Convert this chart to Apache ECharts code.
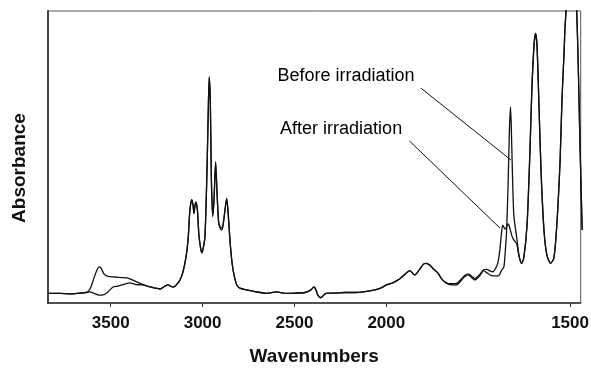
<!DOCTYPE html>
<html>
<head>
<meta charset="utf-8">
<script src="https://cdn.jsdelivr.net/npm/echarts@6/dist/echarts.min.js"></script>
<style>
  html, body { margin: 0; padding: 0; background: #fff; }
  #chart { width: 591px; height: 368px; }
</style>
</head>
<body>
<div id="chart"></div>
<script>
// FTIR absorbance spectra, wavenumbers in cm^-1
const beforeWn = [3841,3776,3721,3667,3634,3613,3591,3575,3562,3553,3536,3515,3477,3439,3411,3368,3330,3297,3259,3232,3205,3188,3172,3156,3139,3123,3107,3090,3079,3069,3059,3052,3047,3041,3036,3028,3020,3011,3005,2998,2987,2976,2969,2964,2958,2952,2945,2938,2929,2922,2913,2905,2896,2889,2878,2869,2862,2851,2840,2829,2814,2797,2760,2715,2651,2597,2552,2497,2443,2410,2394,2383,2372,2356,2345,2329,2280,2225,2171,2116,2062,2035,1999,1983,1964,1950,1936,1923,1909,1898,1891,1882,1871,1860,1849,1836,1822,1809,1795,1786,1777,1767,1759,1746,1735,1727,1718,1710,1705,1696,1691,1686,1680,1676,1673,1669,1665,1662,1660,1657,1653,1645,1639,1632,1626,1617,1609,1604,1598,1594,1590,1585,1579,1571,1563,1553,1544,1536,1527,1522,1516,1514,1510,1506,1495,1485,1482,1478,1473,1467];
const beforeAbs = [0.033,0.033,0.031,0.034,0.036,0.048,0.086,0.113,0.124,0.120,0.099,0.091,0.089,0.087,0.086,0.075,0.065,0.057,0.051,0.048,0.058,0.062,0.057,0.055,0.065,0.079,0.106,0.158,0.216,0.318,0.355,0.336,0.308,0.336,0.346,0.318,0.233,0.188,0.172,0.182,0.229,0.455,0.661,0.775,0.695,0.421,0.296,0.353,0.484,0.387,0.277,0.257,0.250,0.264,0.318,0.359,0.318,0.216,0.140,0.096,0.062,0.051,0.045,0.039,0.033,0.038,0.033,0.034,0.036,0.045,0.055,0.045,0.026,0.018,0.024,0.033,0.034,0.036,0.036,0.039,0.045,0.050,0.062,0.069,0.082,0.098,0.111,0.096,0.116,0.134,0.136,0.130,0.116,0.103,0.082,0.068,0.062,0.062,0.079,0.091,0.096,0.086,0.079,0.093,0.111,0.104,0.096,0.093,0.093,0.093,0.099,0.113,0.124,0.182,0.239,0.387,0.592,0.672,0.610,0.455,0.301,0.223,0.164,0.136,0.154,0.267,0.524,0.729,0.884,0.924,0.884,0.695,0.455,0.250,0.164,0.136,0.154,0.267,0.490,0.695,0.866,0.935,1.020,1.106,1.250,1.072,1.003,0.832,0.548,0.250];

const afterWn = [3841,3776,3721,3667,3634,3613,3591,3564,3536,3515,3487,3460,3422,3395,3362,3330,3297,3259,3232,3205,3188,3172,3156,3139,3123,3107,3090,3079,3069,3059,3052,3047,3041,3036,3028,3020,3011,3005,2998,2987,2976,2969,2964,2958,2952,2945,2938,2929,2922,2913,2905,2896,2889,2878,2869,2862,2851,2840,2829,2814,2797,2760,2715,2651,2597,2552,2497,2443,2410,2394,2383,2372,2356,2345,2329,2280,2225,2171,2116,2062,2035,1999,1983,1964,1950,1936,1923,1909,1898,1891,1882,1871,1860,1849,1836,1822,1809,1795,1786,1777,1767,1759,1746,1735,1727,1718,1710,1702,1696,1691,1687,1683,1677,1673,1668,1664,1658,1653,1645,1639,1632,1626,1617,1609,1604,1598,1594,1590,1585,1579,1571,1563,1553,1544,1536,1527,1522,1516,1514,1510,1506,1495,1485,1482,1478,1473,1467];
const afterAbs = [0.033,0.033,0.031,0.034,0.036,0.038,0.033,0.027,0.029,0.038,0.055,0.058,0.065,0.069,0.063,0.062,0.057,0.051,0.048,0.058,0.062,0.057,0.055,0.065,0.079,0.106,0.158,0.216,0.318,0.352,0.334,0.306,0.333,0.343,0.316,0.233,0.190,0.175,0.184,0.229,0.455,0.661,0.770,0.690,0.421,0.300,0.350,0.478,0.385,0.280,0.262,0.257,0.268,0.318,0.356,0.318,0.216,0.140,0.096,0.062,0.051,0.045,0.039,0.033,0.038,0.033,0.034,0.036,0.045,0.055,0.045,0.026,0.018,0.024,0.033,0.034,0.036,0.036,0.039,0.045,0.050,0.062,0.069,0.082,0.098,0.111,0.096,0.116,0.134,0.136,0.130,0.116,0.103,0.082,0.068,0.066,0.067,0.083,0.095,0.100,0.091,0.084,0.097,0.114,0.115,0.110,0.107,0.120,0.140,0.182,0.233,0.267,0.253,0.260,0.271,0.257,0.229,0.216,0.202,0.161,0.136,0.154,0.267,0.524,0.729,0.884,0.922,0.884,0.695,0.455,0.250,0.164,0.136,0.154,0.267,0.490,0.695,0.866,0.935,1.020,1.106,1.250,1.072,1.003,0.832,0.548,0.250];

// Axis range and labelled ticks (cm^-1)
const wnMax = 3843;
const wnMin = 1471;
const tickWn = [3500, 3000, 2500, 2000, 1500];

// Callouts: text anchor and leader line end points (wavenumber, absorbance)
const noteText = ['Before irradiation', 'After irradiation'];
const noteWn = [2219, 2246];
const noteAbs = [0.779, 0.596];
const leaderFromWn = [1906, 1937];
const leaderFromAbs = [0.736, 0.555];
const leaderToWn = [1661, 1691];
const leaderToAbs = [0.490, 0.257];

// The scale below 2000 cm^-1 is expanded twofold; the axis runs on a
// display coordinate that grows to the right.
const BREAK = 2000;
function toAxis(w) {
  return w >= BREAK ? (4000 - w) : (BREAK + 2 * (BREAK - w) + (4000 - 2 * BREAK));
}
function fromAxis(u) {
  const uBreak = 4000 - BREAK;
  return u <= uBreak ? (4000 - u) : (BREAK - (u - uBreak) / 2);
}

const pairs = (wn, a) => wn.map((w, i) => [toAxis(w), a[i]]);
const FONT = '"Liberation Sans", Arial, Helvetica, sans-serif';
const INK = '#111';

const chart = echarts.init(document.getElementById('chart'), null, { renderer: 'canvas' });

chart.setOption({
  animation: false,
  backgroundColor: '#fff',
  grid: {
    left: 47.7, right: 10.3, top: 11, bottom: 65,
    outerBoundsMode: 'none',
    containLabel: false,
    show: true, borderColor: '#555', borderWidth: 1
  },
  xAxis: {
    type: 'value',
    min: toAxis(wnMax),
    max: toAxis(wnMin),
    name: 'Wavenumbers',
    nameLocation: 'middle',
    nameGap: 44,
    nameTextStyle: { fontFamily: FONT, fontSize: 19, fontWeight: 'bold', color: INK },
    axisLine: { show: true, lineStyle: { color: '#333', width: 1.5 } },
    axisTick: {
      show: true, length: 4, inside: false,
      customValues: tickWn.map(toAxis),
      lineStyle: { color: '#333', width: 1 }
    },
    axisLabel: {
      show: true, margin: 12,
      customValues: tickWn.map(toAxis),
      formatter: (v) => String(Math.round(fromAxis(v))),
      fontFamily: FONT, fontSize: 17, fontWeight: 'bold', color: INK
    },
    splitLine: { show: false }
  },
  yAxis: {
    type: 'value',
    min: 0,
    max: 1,
    name: 'Absorbance',
    nameLocation: 'middle',
    nameRotate: 90,
    nameGap: 18,
    nameTextStyle: { fontFamily: FONT, fontSize: 19, fontWeight: 'bold', color: INK, padding: [0, 0, 0, -22] },
    axisLine: { show: true, lineStyle: { color: '#444', width: 2 } },
    axisTick: { show: false },
    axisLabel: { show: false },
    splitLine: { show: false }
  },
  series: [
    {
      name: 'Before irradiation',
      type: 'line',
      data: pairs(beforeWn, beforeAbs),
      showSymbol: false,
      smooth: 0.25,
      clip: true,
      lineStyle: { color: INK, width: 1.3 },
      markLine: {
        silent: true,
        symbol: ['none', 'none'],
        label: { show: false },
        lineStyle: { color: INK, width: 1, type: 'solid', opacity: 1 },
        data: leaderFromWn.map((w, i) => [
          { coord: [toAxis(w), leaderFromAbs[i]] },
          { coord: [toAxis(leaderToWn[i]), leaderToAbs[i]] }
        ])
      }
    },
    {
      name: 'After irradiation',
      type: 'line',
      data: pairs(afterWn, afterAbs),
      showSymbol: false,
      smooth: 0.25,
      clip: true,
      lineStyle: { color: INK, width: 1.3 }
    },
    {
      name: 'callouts',
      type: 'scatter',
      symbolSize: 0,
      silent: true,
      itemStyle: { opacity: 1, color: INK },
      data: noteText.map((t, i) => ({ value: [toAxis(noteWn[i]), noteAbs[i]], name: t })),
      label: {
        show: true,
        position: 'inside',
        formatter: (p) => p.name,
        fontFamily: FONT, fontSize: 18, color: '#000', opacity: 1,
        textBorderWidth: 0
      }
    }
  ]
});
</script>
</body>
</html>
